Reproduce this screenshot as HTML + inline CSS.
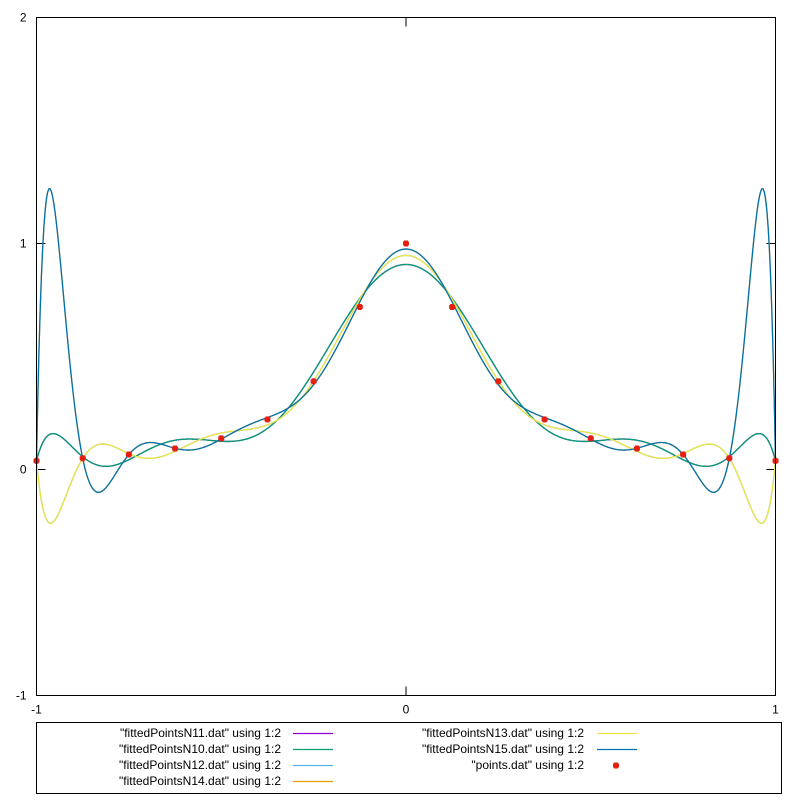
<!DOCTYPE html>
<html><head><meta charset="utf-8">
<style>
html,body{margin:0;padding:0;background:#fff;}
svg{display:block;font-family:"Liberation Sans",Arial,sans-serif;}
</style></head>
<body>
<svg id="chart" width="800" height="800" viewBox="0 0 800 800" xmlns="http://www.w3.org/2000/svg">
<rect x="0" y="0" width="800" height="800" fill="#fff"/>
<g id="axes"></g>
<g id="curves"></g>
<g id="pts"></g>
<rect x="36.5" y="17.5" width="739" height="678" fill="none" stroke="#000" stroke-width="1"/>
<g id="legend">
<rect x="36.5" y="722.5" width="745" height="71" fill="none" stroke="#000" stroke-width="1"/>
</g>
</svg>
<script>
const pointsX = [-1,-0.875,-0.75,-0.625,-0.5,-0.375,-0.25,-0.125,0,0.125,0.25,0.375,0.5,0.625,0.75,0.875,1];
const pointsY = [0.0385,0.0497,0.0664,0.0929,0.1379,0.2215,0.3902,0.7191,1,0.7191,0.3902,0.2215,0.1379,0.0929,0.0664,0.0497,0.0385];
const seriesNames = ["fittedPointsN11.dat","fittedPointsN10.dat","fittedPointsN12.dat","fittedPointsN14.dat","fittedPointsN13.dat","fittedPointsN15.dat"];
const seriesDegrees = [11,10,12,14,13,15];
const seriesColors = ["#9400d3","#009e73","#56b4e9","#e69f00","#f0e442","#0072b2"];
const xTicks = [-1,0,1];
const yTicks = [-1,0,1,2];

const NS="http://www.w3.org/2000/svg";
const L=36.5,R=775.5,T=17.5,B=695.5;
const sx=v=>L+(v+1)/2*(R-L);
const sy=v=>B-(v+1)/3*(B-T);
function mk(tag,attrs,parent){const e=document.createElementNS(NS,tag);for(const k in attrs)e.setAttribute(k,attrs[k]);parent.appendChild(e);return e;}

const axes=document.getElementById('axes');
xTicks.forEach(v=>{
  const x=sx(v);
  const t1=mk('line',{x1:x,y1:B,x2:x,y2:B-9,stroke:'#000'},axes);
  
  
  const t2=mk('line',{x1:x,y1:T,x2:x,y2:T+9,stroke:'#000'},axes);
  
  
  const tx=mk('text',{x:x,y:B+18,'text-anchor':'middle','font-size':12,fill:'#000'},axes);
  tx.textContent=String(v);
  
  
});
yTicks.forEach(v=>{
  const y=sy(v);
  const t1=mk('line',{x1:L,y1:y,x2:L+9,y2:y,stroke:'#000'},axes);
  
  
  const t2=mk('line',{x1:R,y1:y,x2:R-9,y2:y,stroke:'#000'},axes);
  
  
  const tx=mk('text',{x:L-10,y:y+4,'text-anchor':'end','font-size':12,fill:'#000'},axes);
  tx.textContent=String(v);
  
  
});

function legendre(n,x){const p=[1,x];for(let k=2;k<=n;k++)p.push(((2*k-1)*x*p[k-1]-(k-1)*p[k-2])/k);return p.slice(0,n+1);}
function fit(deg){
  const m=pointsX.length,n=deg+1;
  const A=pointsX.map(x=>legendre(deg,x));
  // modified Gram-Schmidt QR
  const Q=[];const Rm=[];for(let i=0;i<n;i++)Rm.push(new Array(n).fill(0));
  for(let j=0;j<n;j++){
    let v=A.map(r=>r[j]);
    for(let i=0;i<j;i++){let d=0;for(let k=0;k<m;k++)d+=Q[i][k]*v[k];Rm[i][j]=d;for(let k=0;k<m;k++)v[k]-=d*Q[i][k];}
    let nr=Math.sqrt(v.reduce((s,a)=>s+a*a,0));Rm[j][j]=nr;Q.push(v.map(a=>a/nr));
  }
  const qy=Q.map(q=>q.reduce((s,a,k)=>s+a*pointsY[k],0));
  const c=new Array(n).fill(0);
  for(let i=n-1;i>=0;i--){let s=qy[i];for(let j=i+1;j<n;j++)s-=Rm[i][j]*c[j];c[i]=s/Rm[i][i];}
  return x=>{const p=legendre(deg,x);let s=0;for(let i=0;i<n;i++)s+=c[i]*p[i];return s;};
}
const curves=document.getElementById('curves');
seriesDegrees.forEach((d,i)=>{
  const f=fit(d);let pts=[];
  for(let k=0;k<=600;k++){const x=-1+2*k/600;pts.push(sx(x).toFixed(2)+','+sy(f(x)).toFixed(2));}
  const pl=mk('polyline',{points:pts.join(' '),fill:'none',stroke:seriesColors[i],'stroke-width':1.3},curves);
  
  
});
const ptsG=document.getElementById('pts');
function star(g,x,y){
  const c=mk('g',{},g);
  mk('rect',{x:x-3,y:y-2,width:6,height:4,fill:'#e51e10'},c);
  mk('rect',{x:x-2,y:y-3,width:4,height:6,fill:'#e51e10'},c);
  return c;
}
pointsX.forEach((x,i)=>{
  const c=star(ptsG,sx(x),sy(pointsY[i]));
  
  
});

const leg=document.getElementById('legend');
const left=[0,1,2,3],right=[4,5];
const rowsY=[733,749,765,781];
function legText(x,y,s){const t=mk('text',{x:x,y:y+4,'text-anchor':'end','font-size':12,fill:'#000'},leg);t.textContent=s;return t;}
left.forEach((si,r)=>{
  const t=legText(281,rowsY[r],'"'+seriesNames[si]+'" using 1:2');
  
  
  const l=mk('line',{x1:293,y1:rowsY[r]+0.5,x2:333,y2:rowsY[r]+0.5,stroke:seriesColors[si],'stroke-width':1.3},leg);
  
  
});
right.forEach((si,r)=>{
  const t=legText(584,rowsY[r],'"'+seriesNames[si]+'" using 1:2');
  
  
  const l=mk('line',{x1:597,y1:rowsY[r]+0.5,x2:637,y2:rowsY[r]+0.5,stroke:seriesColors[si],'stroke-width':1.3},leg);
  
  
});
const pt=legText(584,rowsY[2],'"points.dat" using 1:2');


const ps=star(leg,616,rowsY[2]+0.5);


</script>
</body></html>
